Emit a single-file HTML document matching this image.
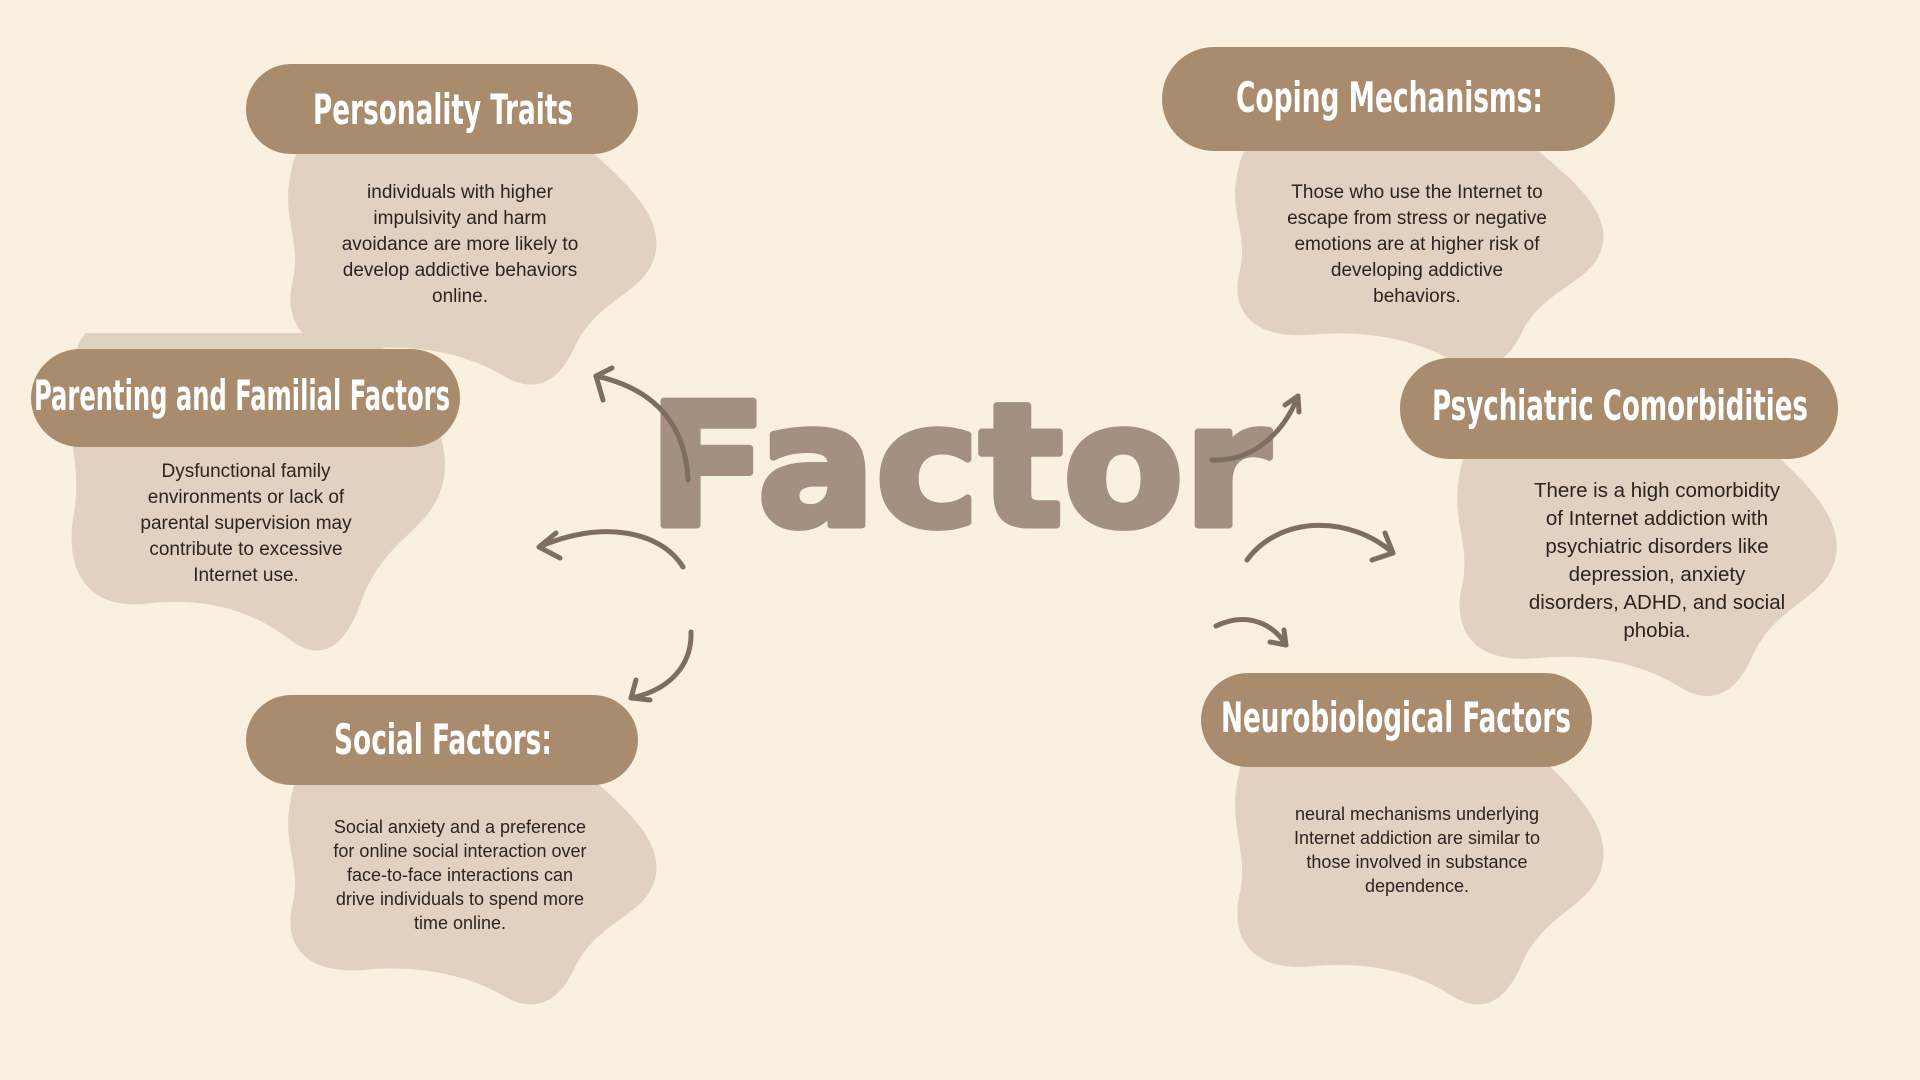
<!DOCTYPE html>
<html><head><meta charset="utf-8"><style>
html,body{margin:0;padding:0;width:1920px;height:1080px;overflow:hidden;background:#faf0df}
svg{display:block}
.t{font-family:"Liberation Sans Narrow","DejaVu Sans Condensed","Liberation Sans",sans-serif;font-weight:bold;fill:#fff}
.b{font-family:"Liberation Sans","DejaVu Sans",sans-serif;fill:#2a2420;text-anchor:middle}
</style></head><body>
<svg width="1920" height="1080" viewBox="0 0 1920 1080" xmlns="http://www.w3.org/2000/svg">
<defs>
<path id="blob" d="M20 0 L300 0 C330 30 385 70 370 115 C358 150 315 155 292 200 C275 240 250 250 220 232 C180 208 130 200 80 205 C22 210 0 180 8 140 C18 100 0 80 5 40 C8 20 10 10 20 0 Z"/>
</defs>
<rect width="1920" height="1080" fill="#faf0df"/>
<g fill="#e0d1c0">
<use href="#blob" transform="translate(284,144) scale(1,1)"/>
<use href="#blob" transform="translate(65,333) scale(1.02,1.32)"/>
<use href="#blob" transform="translate(284,771) scale(1,0.97)"/>
<use href="#blob" transform="translate(1231,144) scale(1,0.93)"/>
<use href="#blob" transform="translate(1453,441) scale(1.03,1.06)"/>
<use href="#blob" transform="translate(1231,747) scale(1,1.07)"/>
</g>
<g fill="#a98b6d">
<rect x="246" y="64" width="392" height="90" rx="45"/>
<rect x="31" y="349" width="429" height="98" rx="49"/>
<rect x="246" y="695" width="392" height="90" rx="45"/>
<rect x="1162" y="47" width="453" height="104" rx="52"/>
<rect x="1400" y="358" width="438" height="101" rx="50"/>
<rect x="1201" y="673" width="391" height="94" rx="47"/>
</g>
<g class="t" font-size="42">
<text x="313" y="124" textLength="260" lengthAdjust="spacingAndGlyphs">Personality Traits</text>
<text x="34" y="410" textLength="416" lengthAdjust="spacingAndGlyphs">Parenting and Familial Factors</text>
<text x="334" y="754" textLength="218" lengthAdjust="spacingAndGlyphs">Social Factors:</text>
<text x="1236" y="112" textLength="307" lengthAdjust="spacingAndGlyphs">Coping Mechanisms:</text>
<text x="1432" y="420" textLength="376" lengthAdjust="spacingAndGlyphs">Psychiatric Comorbidities</text>
<text x="1221" y="732" textLength="350" lengthAdjust="spacingAndGlyphs">Neurobiological Factors</text>
</g>
<g class="b" font-size="19">
<text x="460" y="198">individuals with higher</text>
<text x="460" y="224">impulsivity and harm</text>
<text x="460" y="250">avoidance are more likely to</text>
<text x="460" y="276">develop addictive behaviors</text>
<text x="460" y="302">online.</text>
<text x="246" y="477">Dysfunctional family</text>
<text x="246" y="503">environments or lack of</text>
<text x="246" y="529">parental supervision may</text>
<text x="246" y="555">contribute to excessive</text>
<text x="246" y="581">Internet use.</text>
<text x="1417" y="198">Those who use the Internet to</text>
<text x="1417" y="224">escape from stress or negative</text>
<text x="1417" y="250">emotions are at higher risk of</text>
<text x="1417" y="276">developing addictive</text>
<text x="1417" y="302">behaviors.</text>
</g>
<g class="b" font-size="18">
<text x="460" y="833">Social anxiety and a preference</text>
<text x="460" y="857">for online social interaction over</text>
<text x="460" y="881">face-to-face interactions can</text>
<text x="460" y="905">drive individuals to spend more</text>
<text x="460" y="929">time online.</text>
<text x="1417" y="820">neural mechanisms underlying</text>
<text x="1417" y="844">Internet addiction are similar to</text>
<text x="1417" y="868">those involved in substance</text>
<text x="1417" y="892">dependence.</text>
</g>
<g class="b" font-size="20.5">
<text x="1657" y="497">There is a high comorbidity</text>
<text x="1657" y="525">of Internet addiction with</text>
<text x="1657" y="553">psychiatric disorders like</text>
<text x="1657" y="581">depression, anxiety</text>
<text x="1657" y="609">disorders, ADHD, and social</text>
<text x="1657" y="637">phobia.</text>
</g>
<text x="648" y="525" font-family="'DejaVu Sans','Liberation Sans',sans-serif" font-weight="bold" font-size="170" fill="#a39080" stroke="#a39080" stroke-width="7" stroke-linejoin="round" textLength="622" lengthAdjust="spacingAndGlyphs">Factor</text>
<g fill="none" stroke="#7d6e60" stroke-width="5" stroke-linecap="round" stroke-linejoin="round">
<path d="M688 480 C686 430 660 390 596 376"/>
<path d="M612 368 L596 376 L603 400"/>
<path d="M683 567 C660 530 600 520 539 547"/>
<path d="M556 533 L539 547 L560 558"/>
<path d="M691 632 C692 665 670 690 631 698"/>
<path d="M636 680 L631 698 L650 700"/>
<path d="M1212 460 C1255 462 1285 430 1298 396"/>
<path d="M1285 405 L1298 396 L1299 412"/>
<path d="M1247 560 C1280 515 1350 515 1393 553"/>
<path d="M1385 533 L1393 553 L1372 560"/>
<path d="M1216 626 C1245 612 1272 622 1286 645"/>
<path d="M1270 642 L1286 645 L1284 630"/>
</g>
</svg>
</body></html>
